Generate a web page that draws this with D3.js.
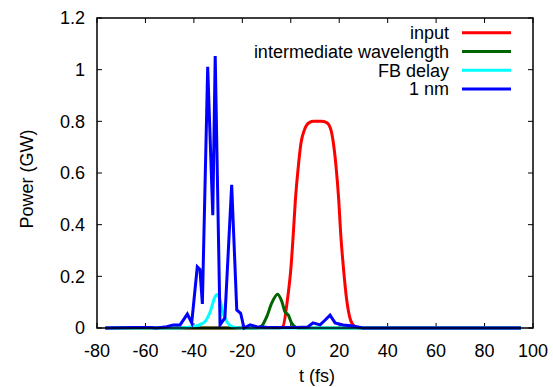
<!DOCTYPE html>
<html>
<head>
<meta charset="utf-8">
<script src="https://cdn.jsdelivr.net/npm/d3@7"></script>
<style>
  body { margin: 0; background: #fff; }
  svg text { font-family: "Liberation Sans", Arial, sans-serif; fill: #000; }
</style>
</head>
<body>
<div id="chart"></div>
<script>
// time in fs, power in GW
const inputT = [-76.5, -10, -5, -3.3, -1.4, 0.1, 1.05, 1.9, 3.1, 4.2, 5.6, 7.6, 9.5, 12.5, 14.8, 16.6, 17.6, 18.7, 19.8, 20.6, 21.7, 23.1, 24.7, 26.5, 28.5, 95];
const inputP = [0, 0, 0, 0.005, 0.108, 0.237, 0.366, 0.495, 0.624, 0.715, 0.766, 0.795, 0.8, 0.8, 0.795, 0.766, 0.715, 0.624, 0.495, 0.366, 0.237, 0.108, 0.03, 0.005, 0, 0];

const interT = [-76.5, -14, -12, -9.9, -7.9, -5.4, -3.6, -2.4, -1.0, 0.4, 1.3, 3, 95];
const interP = [0, 0, 0.008, 0.044, 0.096, 0.131, 0.1, 0.063, 0.05, 0.018, 0.008, 0, 0];

const fbT = [-76.5, -46, -42, -39, -37, -35.4, -33.3, -31.3, -30.5, -29.2, -28, -26.3, -24.3, -22, -20, 95];
const fbP = [0, 0, 0.003, 0.008, 0.015, 0.025, 0.062, 0.12, 0.13, 0.108, 0.058, 0.023, 0.005, 0.001, 0, 0];

const nmT = [-76.5, -65, -58, -55.4, -51.2, -48.5, -45.7, -42.7, -40.9, -38.6, -37.5, -36.5, -34.3, -32.2, -31.2, -29.2, -27.2, -24.4, -22.3, -20.7, -19.3, -16.8, -14.1, -10, -4, 2, 7, 9.2, 12.1, 14.1, 16.2, 18.3, 21.6, 25.7, 29.8, 40, 95];
const nmP = [0, 0.002, 0.002, 0, 0.005, 0.012, 0.012, 0.054, 0.02, 0.237, 0.227, 0.093, 1.011, 0.437, 1.053, 0.012, 0.039, 0.554, 0.07, 0.057, 0, 0.012, 0.005, 0.003, 0.002, 0.002, 0.004, 0.02, 0.012, 0.03, 0.05, 0.02, 0.012, 0.008, 0, 0, 0];

const series = [
  { name: 'input', t: inputT, p: inputP, color: '#ff0000', smooth: true },
  { name: 'intermediate wavelength', t: interT, p: interP, color: '#006400', smooth: true },
  { name: 'FB delay', t: fbT, p: fbP, color: '#00ffff', smooth: true },
  { name: '1 nm', t: nmT, p: nmP, color: '#0000ff', smooth: false }
];

const xTicks = [-80, -60, -40, -20, 0, 20, 40, 60, 80, 100];
const yTicks = [0, 0.2, 0.4, 0.6, 0.8, 1, 1.2];

const width = 553, height = 387;
const margin = { top: 18, right: 20, bottom: 59, left: 97 };
const innerW = width - margin.left - margin.right;
const innerH = height - margin.top - margin.bottom;

const svg = d3.select('#chart').append('svg')
  .attr('width', width)
  .attr('height', height);

const g = svg.append('g')
  .attr('transform', `translate(${margin.left},${margin.top})`);

const x = d3.scaleLinear().domain([-80, 100]).range([0, innerW]);
const y = d3.scaleLinear().domain([0, 1.2]).range([innerH, 0]);

const fontSize = 18;

// ticks, inward on all four sides (mirrored)
const tickLen = 5;
const axes = g.append('g').attr('stroke', '#000').attr('stroke-width', 1);
xTicks.forEach(v => {
  axes.append('line').attr('x1', x(v)).attr('x2', x(v)).attr('y1', innerH).attr('y2', innerH - tickLen);
  axes.append('line').attr('x1', x(v)).attr('x2', x(v)).attr('y1', 0).attr('y2', tickLen);
});
yTicks.forEach(v => {
  axes.append('line').attr('x1', 0).attr('x2', tickLen).attr('y1', y(v)).attr('y2', y(v));
  axes.append('line').attr('x1', innerW).attr('x2', innerW - tickLen).attr('y1', y(v)).attr('y2', y(v));
});

// tick labels
g.append('g').selectAll('text')
  .data(xTicks)
  .enter().append('text')
  .attr('x', d => x(d))
  .attr('y', innerH + 29)
  .attr('text-anchor', 'middle')
  .style('font-size', fontSize + 'px')
  .text(d => d);

g.append('g').selectAll('text')
  .data(yTicks)
  .enter().append('text')
  .attr('x', -12)
  .attr('y', d => y(d))
  .attr('dy', '0.35em')
  .attr('text-anchor', 'end')
  .style('font-size', fontSize + 'px')
  .text(d => d);

// axis labels
g.append('text')
  .attr('x', innerW / 2 + 2)
  .attr('y', innerH + 54)
  .attr('text-anchor', 'middle')
  .style('font-size', fontSize + 'px')
  .text('t (fs)');

g.append('text')
  .attr('transform', `translate(${-margin.left + 33},${innerH / 2 + 6}) rotate(-90)`)
  .attr('text-anchor', 'middle')
  .style('font-size', fontSize + 'px')
  .text('Power (GW)');

// lines
const plot = g.append('g');
series.forEach(s => {
  const line = d3.line()
    .x(d => x(d[0]))
    .y(d => y(d[1]))
    .curve(s.smooth ? d3.curveMonotoneX : d3.curveLinear);
  plot.append('path')
    .datum(s.t.map((t, i) => [t, s.p[i]]))
    .attr('fill', 'none')
    .attr('stroke', s.color)
    .attr('stroke-width', 3)
    .attr('stroke-linejoin', 'miter')
    .attr('d', line);
});

// frame
g.append('rect')
  .attr('x', 0).attr('y', 0)
  .attr('width', innerW).attr('height', innerH)
  .attr('fill', 'none')
  .attr('stroke', '#000')
  .attr('stroke-width', 1.5);

// legend
const legend = g.append('g');
series.forEach((s, i) => {
  const ly = 14.7 + i * 18.8;
  legend.append('text')
    .attr('x', 352)
    .attr('y', ly)
    .attr('dy', '0.35em')
    .attr('text-anchor', 'end')
    .style('font-size', fontSize + 'px')
    .text(s.name);
  legend.append('line')
    .attr('x1', 365).attr('x2', 414)
    .attr('y1', ly).attr('y2', ly)
    .attr('stroke', s.color)
    .attr('stroke-width', 3);
});
</script>
</body>
</html>
